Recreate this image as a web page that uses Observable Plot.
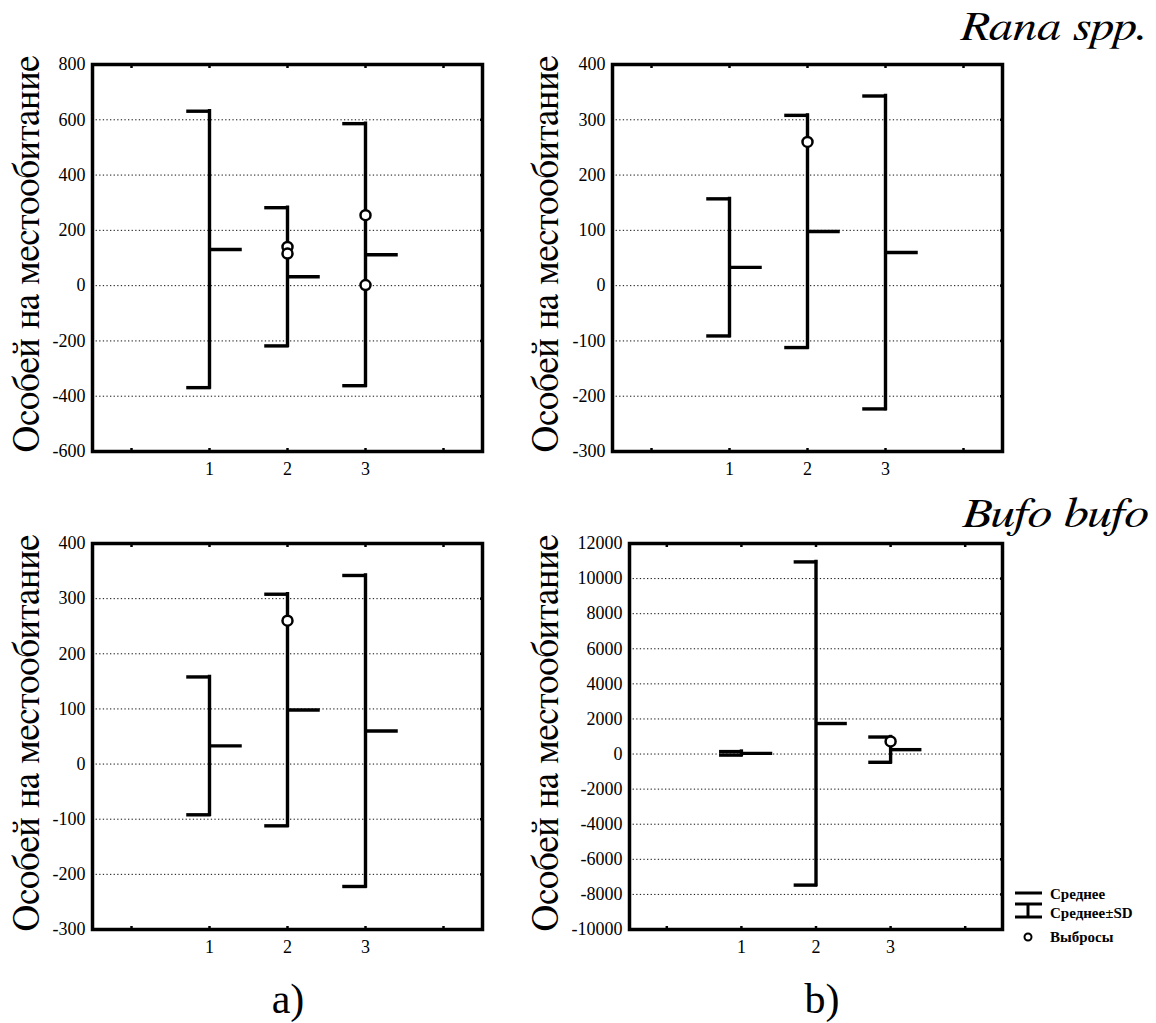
<!DOCTYPE html>
<html>
<head>
<meta charset="utf-8">
<script src="https://cdn.jsdelivr.net/npm/d3@7"></script>
<script src="https://cdn.jsdelivr.net/npm/@observablehq/plot@0.6"></script>
<style>
  html, body { margin: 0; padding: 0; background: #fff; }
  #root { position: relative; width: 1156px; height: 1023px; overflow: hidden; background: #fff; }
  .panel { position: absolute; }
  #overlay { position: absolute; left: 0; top: 0; pointer-events: none; }
</style>
</head>
<body>
<div id="root"></div>
<script>
// ---------- data ----------
const categories = [1, 2, 3];
const xTickPositions = [0, 1, 2, 3, 4];

// Rana spp., a) : mean and SD per category
const ranaA_mean = [131, 32, 112];
const ranaA_sd   = [500, 250, 474];
const ranaA_outCat = [2, 2, 3, 3];
const ranaA_outVal = [140, 116, 255, 2];
const ranaA_yTicks = [-600, -400, -200, 0, 200, 400, 600, 800];

// Rana spp., b)
const ranaB_mean = [33, 98, 60];
const ranaB_sd   = [124, 210, 283];
const ranaB_outCat = [2];
const ranaB_outVal = [260];
const ranaB_yTicks = [-300, -200, -100, 0, 100, 200, 300, 400];

// Bufo bufo, a)
const bufoA_mean = [33, 98, 60];
const bufoA_sd   = [125, 210, 282];
const bufoA_outCat = [2];
const bufoA_outVal = [260];
const bufoA_yTicks = [-300, -200, -100, 0, 100, 200, 300, 400];

// Bufo bufo, b)
const bufoB_mean = [40, 1740, 250];
const bufoB_sd   = [100, 9210, 720];
const bufoB_outCat = [3];
const bufoB_outVal = [720];
const bufoB_yTicks = [-10000, -8000, -6000, -4000, -2000, 0, 2000, 4000, 6000, 8000, 10000, 12000];

const yTitle = "Особей на местообитание";
const speciesTitles = ["Rana spp.", "Bufo bufo"];
const panelLetters = ["a)", "b)"];
const legendLabels = ["Среднее", "Среднее±SD", "Выбросы"];

// ---------- drawing ----------
const root = document.getElementById("root");
const CAP_W = 0.27;
const MEAN_W = 0.42;
const LW = 3.4;
const SERIF = '"Liberation Serif", "Times New Roman", serif';
const BIG_SERIF = 'FreeSerif, "Noto Serif", "Liberation Serif", serif';

function table(mean, sd) {
  return categories.map((c, i) => ({cat: c, mean: mean[i], lo: mean[i] - sd[i], hi: mean[i] + sd[i]}));
}
function outliers(cats, vals) {
  return cats.map((c, i) => ({cat: c, v: vals[i]}));
}

function panel({left, right, top, bottom, yTicks, mean, sd, outCat, outVal}) {
  const mL = 80, mR = 12, mT = 12, mB = 40;
  const data = table(mean, sd);
  const outs = outliers(outCat, outVal);
  const chart = Plot.plot({
    width: (right - left) + mL + mR,
    height: (bottom - top) + mT + mB,
    marginLeft: mL, marginRight: mR, marginTop: mT, marginBottom: mB,
    style: {fontFamily: SERIF, fontSize: "18px", color: "#000", background: "transparent", overflow: "visible"},
    x: {domain: [-0.5, 4.5]},
    y: {domain: [yTicks[0], yTicks[yTicks.length - 1]]},
    marks: [
      Plot.ruleY(yTicks, {stroke: "#111", strokeWidth: 1, strokeDasharray: "1.3,2.3"}),
      Plot.axisY(yTicks, {tickSize: 0, tickPadding: 7, label: null, fontSize: 18, tickFormat: d => String(d)}),
      Plot.axisX(categories, {tickSize: 0, tickPadding: 11, label: null, fontSize: 18, tickFormat: d => String(d)}),
      Plot.axisX(xTickPositions, {anchor: "top", tickSize: -3, strokeWidth: 2.5, tickFormat: () => "", label: null}),
      Plot.axisX(xTickPositions, {anchor: "bottom", tickSize: -3, strokeWidth: 2.5, tickFormat: () => "", label: null}),
      Plot.axisY(yTicks, {anchor: "right", tickSize: -3, strokeWidth: 2.5, tickFormat: () => "", label: null}),
      Plot.ruleX(data, {x: "cat", y1: "lo", y2: "hi", stroke: "#000", strokeWidth: LW, strokeLinecap: "square"}),
      Plot.ruleY(data, {x1: d => d.cat - CAP_W, x2: "cat", y: "hi", stroke: "#000", strokeWidth: LW, strokeLinecap: "square"}),
      Plot.ruleY(data, {x1: d => d.cat - CAP_W, x2: "cat", y: "lo", stroke: "#000", strokeWidth: LW, strokeLinecap: "square"}),
      Plot.ruleY(data, {x1: "cat", x2: d => d.cat + MEAN_W, y: "mean", stroke: "#000", strokeWidth: LW}),
      Plot.dot(outs, {x: "cat", y: "v", r: 5, fill: "#fff", stroke: "#000", strokeWidth: 2.5}),
      Plot.frame({stroke: "#000", strokeWidth: 3.5})
    ]
  });
  chart.classList.add("panel");
  chart.style.left = (left - mL) + "px";
  chart.style.top = (top - mT) + "px";
  root.appendChild(chart);
}

panel({left: 92, right: 482, top: 64, bottom: 451, yTicks: ranaA_yTicks, mean: ranaA_mean, sd: ranaA_sd, outCat: ranaA_outCat, outVal: ranaA_outVal});
panel({left: 612, right: 1002, top: 64, bottom: 451, yTicks: ranaB_yTicks, mean: ranaB_mean, sd: ranaB_sd, outCat: ranaB_outCat, outVal: ranaB_outVal});
panel({left: 92, right: 482, top: 543, bottom: 929, yTicks: bufoA_yTicks, mean: bufoA_mean, sd: bufoA_sd, outCat: bufoA_outCat, outVal: bufoA_outVal});
panel({left: 629, right: 1002, top: 543, bottom: 929, yTicks: bufoB_yTicks, mean: bufoB_mean, sd: bufoB_sd, outCat: bufoB_outCat, outVal: bufoB_outVal});

// ---------- titles, axis titles, legend ----------
const NS = "http://www.w3.org/2000/svg";
const ov = document.createElementNS(NS, "svg");
ov.setAttribute("id", "overlay");
ov.setAttribute("width", 1156);
ov.setAttribute("height", 1023);
root.appendChild(ov);

function txt(str, x, y, attrs = {}, fam = SERIF) {
  const t = document.createElementNS(NS, "text");
  t.textContent = str;
  t.setAttribute("x", x);
  t.setAttribute("y", y);
  for (const k in attrs) t.setAttribute(k, attrs[k]);
  t.style.fontFamily = fam;
  t.style.fill = "#000";
  ov.appendChild(t);
  return t;
}
function el(tag, attrs) {
  const e = document.createElementNS(NS, tag);
  for (const k in attrs) e.setAttribute(k, attrs[k]);
  ov.appendChild(e);
  return e;
}

// rotated y-axis titles
[[28, 254], [547, 254], [28, 733], [547, 733]].forEach(([cx, cy]) => {
  txt(yTitle, 0, 0, {"font-size": 38, "text-anchor": "middle", "dominant-baseline": "central",
    textLength: 397, lengthAdjust: "spacingAndGlyphs",
    transform: `translate(${cx},${cy}) rotate(-90)`}, BIG_SERIF);
});

// species titles
txt(speciesTitles[0], 1148, 40, {"font-size": 42, "font-style": "italic", "text-anchor": "end",
  textLength: 188, lengthAdjust: "spacingAndGlyphs"}, BIG_SERIF);
txt(speciesTitles[1], 1148, 527, {"font-size": 42, "font-style": "italic", "text-anchor": "end",
  textLength: 186, lengthAdjust: "spacingAndGlyphs"}, BIG_SERIF);

// panel letters
txt(panelLetters[0], 288, 1013, {"font-size": 42, "text-anchor": "middle"});
txt(panelLetters[1], 822, 1013, {"font-size": 42, "text-anchor": "middle"});

// legend
el("line", {x1: 1015, x2: 1042, y1: 893, y2: 893, stroke: "#000", "stroke-width": 3});
el("line", {x1: 1015, x2: 1042, y1: 904, y2: 904, stroke: "#000", "stroke-width": 3});
el("line", {x1: 1015, x2: 1042, y1: 917, y2: 917, stroke: "#000", "stroke-width": 3});
el("line", {x1: 1028, x2: 1028, y1: 904, y2: 917, stroke: "#000", "stroke-width": 3});
el("circle", {cx: 1028, cy: 937, r: 3.5, fill: "#fff", stroke: "#000", "stroke-width": 2});
txt(legendLabels[0], 1050, 899, {"font-size": 15, "font-weight": "bold"});
txt(legendLabels[1], 1050, 918, {"font-size": 15, "font-weight": "bold"});
txt(legendLabels[2], 1050, 942, {"font-size": 15, "font-weight": "bold"});
</script>
</body>
</html>
